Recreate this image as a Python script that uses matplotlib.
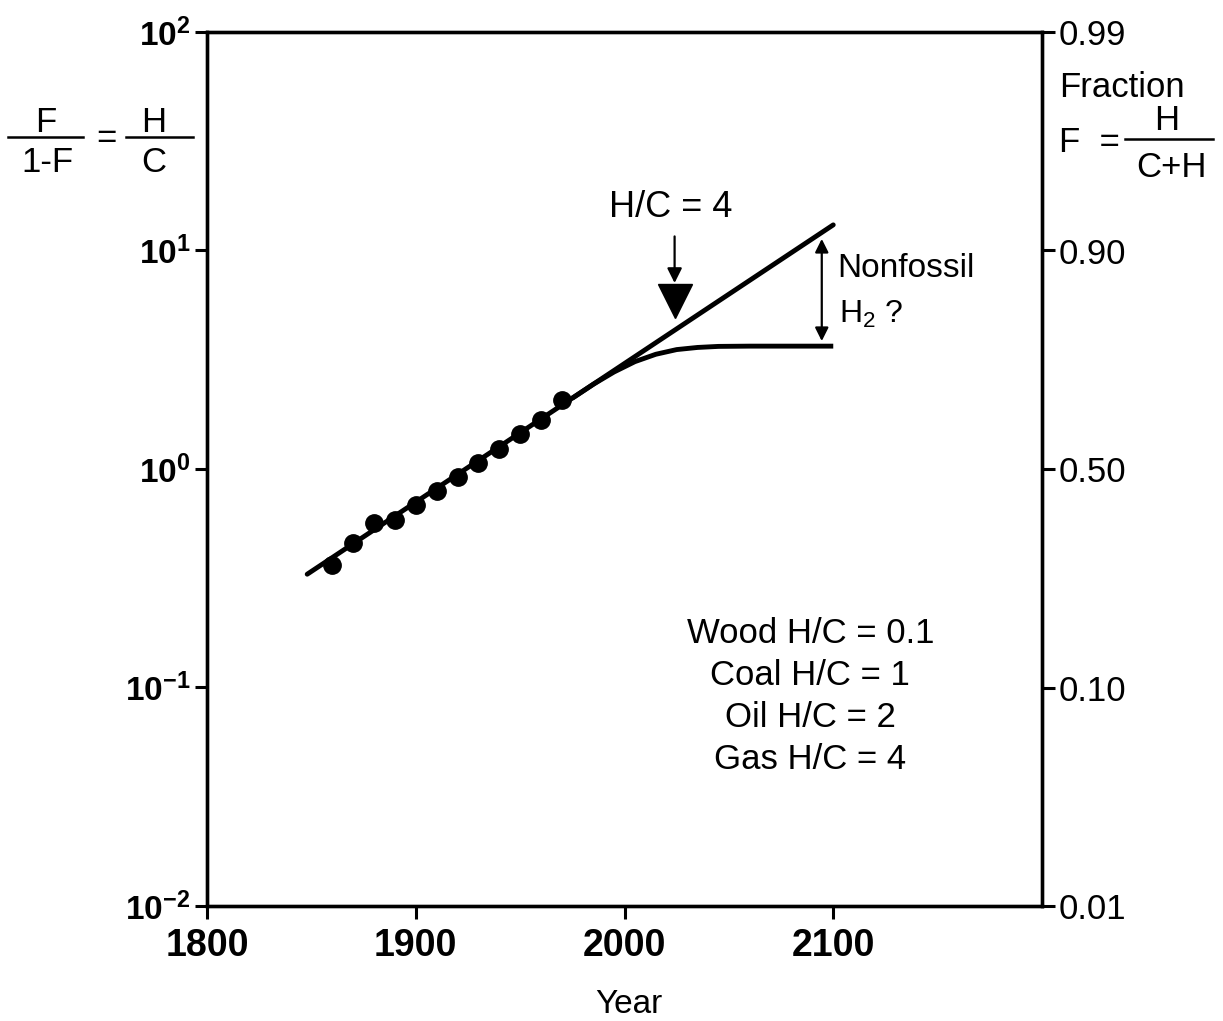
import matplotlib
matplotlib.use("Agg")
import matplotlib.pyplot as plt
from matplotlib.lines import Line2D

plt.rcParams["font.family"] = ["Liberation Sans", "DejaVu Sans"]
plt.rcParams["mathtext.fontset"] = "custom"
plt.rcParams["mathtext.rm"] = "Liberation Sans"
plt.rcParams["mathtext.bf"] = "Liberation Sans:bold"
plt.rcParams["mathtext.it"] = "Liberation Sans:italic"

# Observed hydrogen/carbon ratio of the primary energy mix
obs_years = [1860, 1870, 1880, 1890, 1900, 1910, 1920, 1930, 1940, 1950, 1960, 1970]
obs_ratio = [0.364, 0.458, 0.566, 0.585, 0.684, 0.793, 0.918, 1.06, 1.24, 1.45, 1.67, 2.07]

# Long-term logistic trend (straight on the log scale)
trend_years = [1848, 2100]
trend_ratio = [0.33, 13.1]

# Fossil-only path levelling off near the methane ratio
fossil_years = [1975, 1985, 1995, 2005, 2015, 2025, 2035, 2045, 2060, 2080, 2100]
fossil_ratio = [2.11, 2.44, 2.78, 3.10, 3.35, 3.52, 3.60, 3.64, 3.65, 3.65, 3.65]

# Markers for the H/C = 4 crossing and the nonfossil hydrogen gap
gas_year = 2024
gas_marker = 5.9
gap_year = 2094.5
gap_top, gap_bottom = 11.3, 3.85

x_ticks = [1800, 1900, 2000, 2100]
y_ticks = [1e-2, 1e-1, 1e0, 1e1, 1e2]
y_labels = [r"$\mathbf{10^{-2}}$", r"$\mathbf{10^{-1}}$", r"$\mathbf{10^{0}}$",
            r"$\mathbf{10^{1}}$", r"$\mathbf{10^{2}}$"]
frac_labels = ["0.01", "0.10", "0.50", "0.90", "0.99"]
fuel_lines = ["Wood H/C = 0.1", "Coal H/C = 1", "Oil H/C = 2", "Gas H/C = 4"]

W, H = 1223, 1021
fig = plt.figure(figsize=(W / 100, H / 100), dpi=100)
ax = fig.add_axes([207 / W, 1 - 906 / H, 835 / W, 874 / H])

ax.set_yscale("log")
ax.set_xlim(1800, 2200)
ax.set_ylim(1e-2, 1e2)

ax.plot(trend_years, trend_ratio, color="black", lw=3.5, solid_capstyle="round", zorder=3)
ax.plot(fossil_years, fossil_ratio, color="black", lw=3.5, solid_capstyle="butt", zorder=3)
ax.plot(obs_years, obs_ratio, "o", color="black", ms=12.5, zorder=4)

# H/C = 4 marker and arrow
ax.plot([gas_year], [gas_marker], marker="v", color="black", ms=24, zorder=4)
ax.annotate("", xy=(gas_year, 7.1), xytext=(gas_year, 11.6),
            arrowprops=dict(arrowstyle="-|>", color="black", lw=1.6,
                            mutation_scale=22, shrinkA=0, shrinkB=0))
ax.text(2022.3, 14.2, "H/C = 4", fontsize=26, ha="center", va="baseline")

# Double-headed arrow for the nonfossil hydrogen gap
ax.annotate("", xy=(gap_year, gap_top), xytext=(gap_year, gap_bottom),
            arrowprops=dict(arrowstyle="<|-|>", color="black", lw=1.6,
                            mutation_scale=20, shrinkA=0, shrinkB=0))
ax.text(2101.8, 7.56, "Nonfossil", fontsize=24, ha="left", va="baseline")
ax.text(2102.8, 4.66, r"H$_2$ ?", fontsize=23, ha="left", va="baseline")

# Fuel H/C ratios
for i, line in enumerate(fuel_lines):
    ax.text(2089, 0.160 / (1.557 ** i), line, fontsize=25, ha="center", va="baseline")

ax.set_xticks(x_ticks)
ax.set_xticklabels([str(v) for v in x_ticks], fontsize=27, fontweight="bold")
ax.set_yticks(y_ticks)
ax.set_yticklabels(y_labels, fontsize=24)
ax.minorticks_off()
ax.tick_params(axis="both", direction="out", length=9, width=2.2, colors="black")
ax.tick_params(axis="x", pad=7)
ax.tick_params(axis="y", pad=3)
for s in ax.spines.values():
    s.set_linewidth(2.4)

# x-axis title
fig.text(629 / W, 1 - 1013 / H, "Year", fontsize=24, ha="center", va="baseline")

# Right-hand axis: fraction F = H/(C+H)
ax2 = ax.twinx()
ax2.set_yscale("log")
ax2.set_ylim(1e-2, 1e2)
ax2.set_yticks(y_ticks)
ax2.set_yticklabels(frac_labels, fontsize=25)
ax2.minorticks_off()
ax2.tick_params(axis="y", direction="out", length=9, width=2.2, pad=3)
for s in ax2.spines.values():
    s.set_linewidth(2.4)


def ftext(x, y, s, size, ha="center", va="baseline"):
    fig.text(x / W, 1 - y / H, s, fontsize=size, ha=ha, va=va)


def fbar(x0, x1, y):
    fig.add_artist(Line2D([x0 / W, x1 / W], [1 - y / H] * 2, color="black",
                          lw=1.8, transform=fig.transFigure))


# Left-hand axis title: F/(1-F) = H/C
ftext(46, 132, "F", 25)
ftext(47, 172, "1-F", 25)
ftext(106, 148, "=", 25)
ftext(154, 132, "H", 25)
ftext(154, 172, "C", 25)
fbar(8, 83, 137)
fbar(126, 193, 137)

# Right-hand axis title: Fraction F = H/(C+H)
ftext(1059, 97, "Fraction", 25, ha="left")
ftext(1059, 152, "F  =", 25, ha="left")
ftext(1167, 130, "H", 25)
ftext(1171, 177, "C+H", 25)
fbar(1125, 1213, 139)

fig.savefig("out.png", dpi=100, facecolor="white")
